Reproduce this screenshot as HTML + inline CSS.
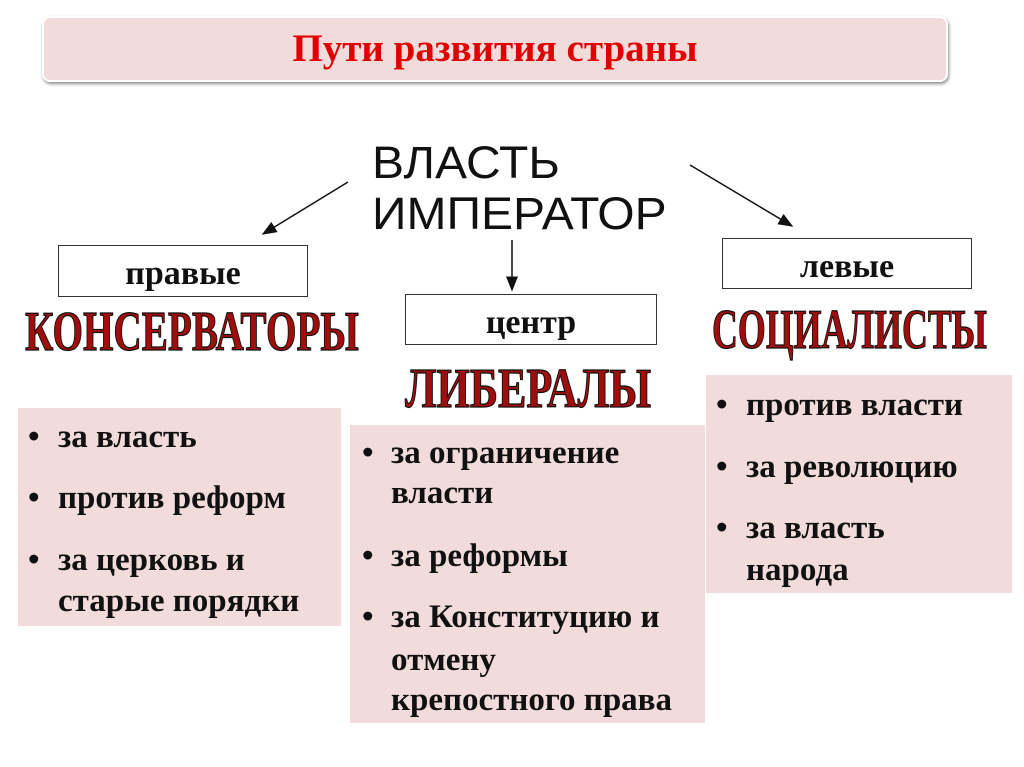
<!DOCTYPE html>
<html><head><meta charset="utf-8"><style>
body{margin:0;width:1024px;height:767px;background:#fff;position:relative;overflow:hidden;font-family:"Liberation Serif",serif}
.a{position:absolute}
.t{position:absolute;left:42px;top:16px;width:902px;height:62px;background:#f2dcdb;border:2px solid #fff;border-radius:8px;box-shadow:1px 2px 3px rgba(0,0,0,.45);text-align:center;line-height:62px;color:#e00000;font-weight:bold;font-size:39px}
.box{position:absolute;border:1.5px solid #333;background:#fff;text-align:center;font-weight:bold;font-size:34px;color:#111;box-sizing:border-box}
.pk{position:absolute;background:#f2dcdb}
.l{position:absolute;font-weight:bold;font-size:33px;color:#111;line-height:34px;white-space:nowrap}
.wa{position:absolute;font-weight:bold;color:#a00d0d;-webkit-text-stroke:1.2px #111;font-size:56px;line-height:56px;transform-origin:0 0;white-space:nowrap}
</style></head><body>
<div class="t">Пути развития страны</div>
<div class="a" style="left:372px;top:138px;font-family:'Liberation Sans',sans-serif;font-size:48px;line-height:54px;color:#111;transform:scaleY(0.95);transform-origin:0 0">ВЛАСТЬ<br>ИМПЕРАТОР</div>
<svg class="a" style="left:0;top:0" width="1024" height="767">
<defs><marker id="m" markerWidth="10" markerHeight="8" refX="9" refY="4" orient="auto"><path d="M0,0L10,4L0,8z" fill="#111"/></marker></defs>
<line x1="348" y1="182" x2="263" y2="234" stroke="#111" stroke-width="1.5" marker-end="url(#m)"/>
<line x1="512" y1="240" x2="512" y2="290" stroke="#111" stroke-width="1.5" marker-end="url(#m)"/>
<line x1="690" y1="165" x2="792" y2="226" stroke="#111" stroke-width="1.5" marker-end="url(#m)"/>
</svg>
<div class="box" style="left:58px;top:245px;width:250px;height:52px;line-height:56px">правые</div>
<div class="box" style="left:405px;top:294px;width:252px;height:51px;line-height:55px">центр</div>
<div class="box" style="left:722px;top:238px;width:250px;height:51px;line-height:55px">левые</div>
<div class="wa" style="left:25px;top:304px;transform:scaleX(0.7)">КОНСЕРВАТОРЫ</div>
<div class="wa" style="left:405px;top:361px;transform:scaleX(0.76)">ЛИБЕРАЛЫ</div>
<div class="wa" style="left:712px;top:302px;transform:scaleX(0.64)">СОЦИАЛИСТЫ</div>
<div class="pk" style="left:18px;top:408px;width:323px;height:218px"></div>
<div class="pk" style="left:350px;top:425px;width:355px;height:298px"></div>
<div class="pk" style="left:706px;top:375px;width:306px;height:218px"></div>
<div class="l" style="left:28px;top:420px">•</div><div class="l" style="left:58px;top:420px">за власть</div>
<div class="l" style="left:28px;top:481px">•</div><div class="l" style="left:58px;top:481px">против реформ</div>
<div class="l" style="left:28px;top:543px">•</div><div class="l" style="left:58px;top:543px">за церковь и</div>
<div class="l" style="left:58px;top:584px">старые порядки</div>
<div class="l" style="left:362px;top:436px">•</div><div class="l" style="left:391px;top:436px">за ограничение</div>
<div class="l" style="left:391px;top:476px">власти</div>
<div class="l" style="left:362px;top:539px">•</div><div class="l" style="left:391px;top:539px">за реформы</div>
<div class="l" style="left:362px;top:600px">•</div><div class="l" style="left:391px;top:600px">за Конституцию и</div>
<div class="l" style="left:391px;top:643px">отмену</div>
<div class="l" style="left:391px;top:683px">крепостного права</div>
<div class="l" style="left:716px;top:388px">•</div><div class="l" style="left:746px;top:388px">против власти</div>
<div class="l" style="left:716px;top:450px">•</div><div class="l" style="left:746px;top:450px">за революцию</div>
<div class="l" style="left:716px;top:511px">•</div><div class="l" style="left:746px;top:511px">за власть</div>
<div class="l" style="left:746px;top:553px">народа</div>
</body></html>
